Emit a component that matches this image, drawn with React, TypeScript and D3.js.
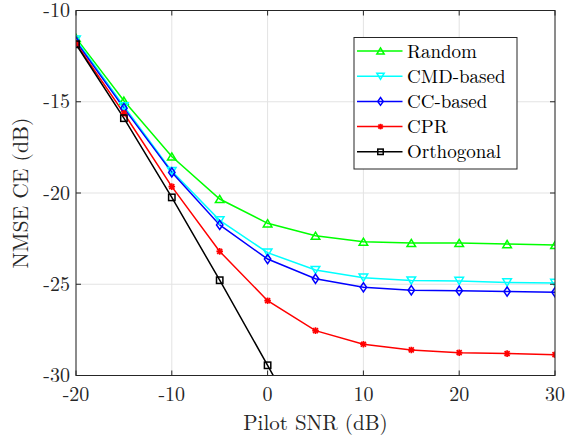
import React from "react";
import * as d3 from "d3";

const snr = [-20, -15, -10, -5, 0, 5, 10, 15, 20, 25, 30];
const randomVals = [-11.5, -14.94, -18.0, -20.33, -21.66, -22.34, -22.67, -22.74, -22.74, -22.8, -22.85];
const cmdVals = [-11.6, -15.25, -18.8, -21.5, -23.27, -24.22, -24.64, -24.8, -24.82, -24.9, -24.93];
const ccVals = [-11.7, -15.35, -18.87, -21.75, -23.62, -24.7, -25.17, -25.33, -25.35, -25.4, -25.44];
const cprVals = [-11.8, -15.63, -19.65, -23.2, -25.9, -27.54, -28.29, -28.6, -28.75, -28.8, -28.86];
const orthoSnr = [-20, -15, -10, -5, 0, 5];
const orthoVals = [-11.85, -15.9, -20.24, -24.78, -29.44, -34.2];

const xTicks = [-20, -10, 0, 10, 20, 30];
const yTicks = [-10, -15, -20, -25, -30];

type Series = { name: string; color: string; marker: string; xs: number[]; ys: number[] };
const series: Series[] = [
  { name: "Random", color: "#00ff00", marker: "triUp", xs: snr, ys: randomVals },
  { name: "CMD-based", color: "#00ffff", marker: "triDown", xs: snr, ys: cmdVals },
  { name: "CC-based", color: "#0000ff", marker: "diamond", xs: snr, ys: ccVals },
  { name: "CPR", color: "#ff0000", marker: "star", xs: snr, ys: cprVals },
  { name: "Orthogonal", color: "#000000", marker: "square", xs: orthoSnr, ys: orthoVals },
];

const W = 565, H = 439;
const L = 76, R = 555, T = 10.5, B = 375.5;
const FONT = "'Latin Modern Roman', 'DejaVu Serif', 'Liberation Serif', serif";

function Marker({ type, x, y, color, k = 1 }: { type: string; x: number; y: number; color: string; k?: number }) {
  if (type === "triUp") {
    const w = 4.3 * k, h = 3.6 * k;
    return <path d={`M${x},${y - h} L${x + w},${y + h} L${x - w},${y + h} Z`} fill="none" stroke={color} strokeWidth={1.5} />;
  }
  if (type === "triDown") {
    const w = 4.3 * k, h = 3.6 * k;
    return <path d={`M${x},${y + h} L${x + w},${y - h} L${x - w},${y - h} Z`} fill="none" stroke={color} strokeWidth={1.5} />;
  }
  if (type === "diamond") {
    return <path d={`M${x},${y - 4.6 * k} L${x + 3.2 * k},${y} L${x},${y + 4.6 * k} L${x - 3.2 * k},${y} Z`} fill="none" stroke={color} strokeWidth={1.5} />;
  }
  if (type === "square") {
    const s = 3.2 * k;
    return <rect x={x - s} y={y - s} width={2 * s} height={2 * s} fill="none" stroke={color} strokeWidth={1.5} />;
  }
  const s = 3.3 * k;
  return (
    <g stroke={color} strokeWidth={1.7}>
      <line x1={x - s} y1={y} x2={x + s} y2={y} />
      <line x1={x} y1={y - s} x2={x} y2={y + s} />
      <line x1={x - s * 0.75} y1={y - s * 0.75} x2={x + s * 0.75} y2={y + s * 0.75} />
      <line x1={x - s * 0.75} y1={y + s * 0.75} x2={x + s * 0.75} y2={y - s * 0.75} />
      <circle cx={x} cy={y} r={2} fill={color} stroke="none" />
    </g>
  );
}

export default function App() {
  const x = d3.scaleLinear().domain([-20, 30]).range([L, R]);
  const y = d3.scaleLinear().domain([-30, -10]).range([B, T]);
  const line = d3.line<[number, number]>().x((d) => x(d[0])).y((d) => y(d[1]));

  const legX = 354, legY = 37.5, legW = 163, legH = 131.5;
  const rowH = 25.2;

  return (
    <svg width={W} height={H} style={{ position: "absolute", left: 0, top: 0, background: "#fff" }} fontFamily={FONT}>
      <defs>
        <clipPath id="plotclip">
          <rect x={L} y={T} width={R - L} height={B - T} />
        </clipPath>
      </defs>
      <rect x={0} y={0} width={W} height={H} fill="#fff" />
      {xTicks.map((t) => (
        <line key={"gx" + t} x1={x(t)} x2={x(t)} y1={T} y2={B} stroke="#e3e3e3" strokeWidth={1} />
      ))}
      {yTicks.map((t) => (
        <line key={"gy" + t} x1={L} x2={R} y1={y(t)} y2={y(t)} stroke="#e3e3e3" strokeWidth={1} />
      ))}
      <g clipPath="url(#plotclip)">
        {series.map((s) => (
          <path key={s.name} d={line(s.xs.map((v, i) => [v, s.ys[i]] as [number, number])) || ""} fill="none" stroke={s.color} strokeWidth={1.5} />
        ))}
        {series.map((s) =>
          s.xs.map((v, i) => <Marker key={s.name + i} type={s.marker} x={x(v)} y={y(s.ys[i])} color={s.color} />)
        )}
      </g>
      <rect x={L} y={T} width={R - L} height={B - T} fill="none" stroke="#262626" strokeWidth={1} />
      {xTicks.map((t) => (
        <g key={"tx" + t}>
          <line x1={x(t)} x2={x(t)} y1={B} y2={B - 5} stroke="#262626" />
          <line x1={x(t)} x2={x(t)} y1={T} y2={T + 5} stroke="#262626" />
          <text x={x(t)} y={B + 25} textAnchor="middle" fontSize={20} fill="#262626">{t}</text>
        </g>
      ))}
      {yTicks.map((t) => (
        <g key={"ty" + t}>
          <line x1={L} x2={L + 5} y1={y(t)} y2={y(t)} stroke="#262626" />
          <line x1={R} x2={R - 5} y1={y(t)} y2={y(t)} stroke="#262626" />
          <text x={L - 6} y={y(t) + 6.5} textAnchor="end" fontSize={20} fill="#262626">{t}</text>
        </g>
      ))}
      <text x={(L + R) / 2} y={430} textAnchor="middle" fontSize={21} fill="#262626">Pilot SNR (dB)</text>
      <text transform={`translate(28,${(T + B) / 2}) rotate(-90)`} textAnchor="middle" fontSize={21.5} fill="#262626">NMSE CE (dB)</text>
      <rect x={legX} y={legY} width={legW} height={legH} fill="#fff" stroke="#262626" strokeWidth={1} />
      {series.map((s, i) => {
        const cy = legY + 13.5 + i * rowH;
        return (
          <g key={"leg" + s.name}>
            <line x1={legX + 3} x2={legX + 48.5} y1={cy} y2={cy} stroke={s.color} strokeWidth={1.5} />
            <Marker type={s.marker} x={legX + 26.5} y={cy} color={s.color} k={0.85} />
            <text x={legX + 53} y={cy + 6.5} fontSize={19} fill="#000">{s.name}</text>
          </g>
        );
      })}
    </svg>
  );
}
